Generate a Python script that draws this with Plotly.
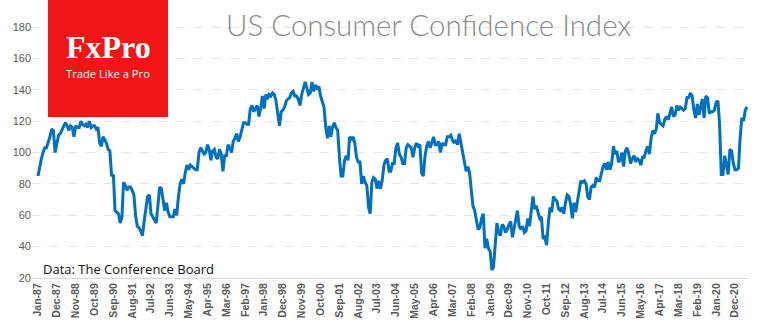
import pandas as pd
import plotly.graph_objects as go

# Monthly US Consumer Confidence Index, Jan-1987 .. Jul-2021
cci_1987_1996 = [
    85, 92, 96, 100, 103, 103, 106, 110, 115, 114, 100, 106,   # 1987
    111, 112, 114, 116, 119, 117, 114, 117, 116, 110, 117, 116,  # 1988
    116, 120, 118, 117, 118, 116, 120, 116, 117, 117, 115, 116,  # 1989
    106, 104, 110, 108, 106, 102, 101, 85, 86, 63, 62, 61,       # 1990
    55, 59, 81, 79, 76, 78, 78, 76, 73, 60, 53, 52,              # 1991
    50, 47, 56, 65, 72, 73, 61, 59, 57, 55, 66, 78,              # 1992
    77, 68, 63, 68, 62, 59, 59, 59, 64, 60, 72, 80,              # 1993
    83, 80, 87, 92, 89, 92, 91, 90, 89, 89, 100, 103,            # 1994
    101, 99, 100, 105, 102, 95, 101, 102, 97, 96, 102, 99,       # 1995
    88, 98, 98, 105, 103, 100, 107, 109, 112, 107, 110, 114,     # 1996
]
cci_1997_2006 = [
    119, 119, 118, 118, 128, 130, 126, 128, 130, 123, 128, 136,  # 1997
    128, 137, 134, 137, 136, 138, 137, 133, 126, 117, 126, 127,  # 1998
    129, 133, 134, 135, 138, 139, 136, 136, 134, 130, 137, 142,  # 1999
    145, 141, 137, 138, 145, 139, 143, 141, 142, 136, 133, 129,  # 2000
    116, 109, 117, 110, 116, 119, 116, 114, 97, 85, 85, 95,      # 2001
    98, 95, 110, 108, 110, 106, 97, 94, 94, 80, 85, 81,          # 2002
    79, 65, 61, 81, 84, 83, 77, 82, 77, 82, 92, 95,              # 2003
    96, 88, 88, 93, 93, 103, 106, 99, 97, 93, 93, 103,           # 2004
    105, 104, 103, 97, 103, 106, 104, 105, 87, 85, 98, 104,      # 2005
    107, 103, 107, 110, 105, 105, 107, 100, 106, 105, 105, 110,  # 2006
]
cci_2007_2021 = [
    110, 111, 108, 106, 108, 105, 112, 106, 100, 95, 88, 91,     # 2007
    87, 76, 66, 63, 58, 51, 52, 58, 61, 39, 45, 39,              # 2008
    37, 25, 27, 41, 55, 49, 47, 54, 53, 49, 51, 54,              # 2009
    56, 46, 52, 58, 63, 53, 51, 53, 49, 50, 58, 53,              # 2010
    65, 72, 64, 66, 62, 58, 59, 45, 46, 41, 55, 65,              # 2011
    62, 72, 70, 69, 64, 63, 65, 61, 68, 73, 72, 67,              # 2012
    58, 68, 62, 69, 76, 82, 81, 82, 80, 72, 70, 78,              # 2013
    79, 78, 84, 82, 82, 86, 91, 93, 89, 94, 89, 93,              # 2014
    104, 99, 101, 94, 95, 100, 91, 101, 103, 99, 93, 96,         # 2015
    98, 94, 96, 95, 92, 97, 97, 101, 104, 99, 109, 114,          # 2016
    112, 115, 125, 119, 118, 117, 121, 123, 121, 126, 129, 123,  # 2017
    124, 130, 127, 129, 128, 127, 128, 135, 135, 138, 136, 127,  # 2018
    122, 131, 124, 129, 134, 122, 136, 135, 125, 126, 126, 127,  # 2019
    132, 133, 119, 86, 86, 98, 92, 86, 102, 101, 93, 89,         # 2020
    89, 90, 109, 122, 120, 127, 129,                             # 2021
]
cci_values = cci_1987_1996 + cci_1997_2006 + cci_2007_2021

tick_labels = [
    "Jan-87", "Dec-87", "Nov-88", "Oct-89", "Sep-90", "Aug-91", "Jul-92", "Jun-93",
    "May-94", "Apr-95", "Mar-96", "Feb-97", "Jan-98", "Dec-98", "Nov-99", "Oct-00",
    "Sep-01", "Aug-02", "Jul-03", "Jun-04", "May-05", "Apr-06", "Mar-07", "Feb-08",
    "Jan-09", "Dec-09", "Nov-10", "Oct-11", "Sep-12", "Aug-13", "Jul-14", "Jun-15",
    "May-16", "Apr-17", "Mar-18", "Feb-19", "Jan-20", "Dec-20",
]
y_ticks = [20, 40, 60, 80, 100, 120, 140, 160, 180]

months = pd.date_range("1987-01-01", periods=len(cci_values), freq="MS")
tick_dates = [pd.to_datetime(lbl, format="%b-%y") for lbl in tick_labels]

fig = go.Figure()
fig.add_trace(go.Scatter(
    x=months, y=cci_values, mode="lines",
    line=dict(color="#0070c0", width=3),
    hoverinfo="skip", showlegend=False,
))

# plot area pixel geometry
L, R, T, B = 32, 20, 6, 49
W, H = 768, 327
pw, ph = W - L - R, H - T - B

def px(x):
    return (x - L) / pw

def py(y):
    return (H - B - y) / ph

fig.update_layout(
    width=W, height=H,
    margin=dict(l=L, r=R, t=T, b=B),
    paper_bgcolor="white", plot_bgcolor="white",
    xaxis=dict(
        range=["1986-09-16", "2021-07-20"],
        tickvals=tick_dates, ticktext=[f"<b>{t}</b>" for t in tick_labels],
        tickangle=-90, tickfont=dict(family="Liberation Sans", size=10.5, color="#595959"),
        showgrid=False, zeroline=False,
        showline=True, linecolor="#d9d9d9", linewidth=1,
        ticks="", ticklen=0,
    ),
    yaxis=dict(
        range=[20, 193.4], tickvals=y_ticks,
        tickfont=dict(family="Liberation Sans", size=11, color="#595959"),
        showgrid=True, gridcolor="#e6e6e6", griddash="dash", gridwidth=1,
        zeroline=False, showline=False, ticks="",
    ),
    shapes=[dict(
        type="rect", xref="paper", yref="paper",
        x0=px(48), x1=px(168), y0=py(117), y1=py(-2),
        fillcolor="#f01616", line=dict(width=0), layer="above",
    )],
    annotations=[
        dict(text="US Consumer Confidence Index", xref="paper", yref="paper",
             x=px(428), y=py(25), xanchor="center", yanchor="middle", showarrow=False,
             font=dict(family="Lato", size=29.5, color="#8a8a8a", weight=300)),
        dict(text="FxPro", xref="paper", yref="paper",
             x=px(108), y=py(47), xanchor="center", yanchor="middle", showarrow=False,
             font=dict(family="Liberation Serif", size=32, color="white", weight="bold")),
        dict(text="Trade Like a Pro", xref="paper", yref="paper",
             x=px(108), y=py(73), xanchor="center", yanchor="middle", showarrow=False,
             font=dict(family="Open Sans", size=11.2, color="white")),
        dict(text="Data: The Conference Board", xref="paper", yref="paper",
             x=px(41), y=py(269), xanchor="left", yanchor="middle", showarrow=False,
             font=dict(family="Open Sans", size=13, color="#111111")),
    ],
)

fig.write_html("out.html")
